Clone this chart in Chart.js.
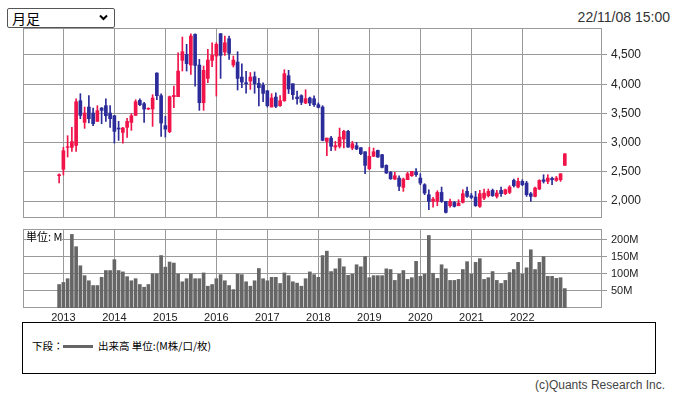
<!DOCTYPE html>
<html><head><meta charset="utf-8">
<script src="https://cdn.jsdelivr.net/npm/chart.js@4.4.0/dist/chart.umd.min.js"></script>
<style>
html,body{margin:0;padding:0;background:#fff;}
body{width:676px;height:397px;position:relative;overflow:hidden;font-family:"Liberation Sans",Arial,sans-serif;}
canvas{position:absolute;left:0;}
#priceCanvas{top:0;}
#volCanvas{top:222px;}
#sel{position:absolute;left:7px;top:8px;width:108px;height:20px;border:1px solid #555;border-radius:2px;box-sizing:border-box;background:#fff;}
#sel span{position:absolute;left:4px;top:0px;font-family:"Noto Sans CJK JP",sans-serif;font-size:14px;line-height:18px;color:#000;}
#sel svg{position:absolute;right:6px;top:5px;}
#stamp{position:absolute;right:6px;top:9px;font-size:14px;color:#333;}
#unit{position:absolute;left:26px;top:230px;font-family:"Noto Sans CJK JP",sans-serif;font-size:11px;line-height:13px;color:#000;background:#fff;}
#legend{position:absolute;left:22px;top:322px;width:634px;height:52px;border:1px solid #000;box-sizing:border-box;background:#fff;}
#legend .t{position:absolute;top:16px;font-family:"Noto Sans CJK JP",sans-serif;font-size:10.5px;line-height:14px;color:#000;white-space:nowrap;}
#legend .ln{position:absolute;left:40px;top:22px;width:30px;height:3px;background:#666;}
#copy{position:absolute;right:11px;top:378px;font-size:12px;color:#444;}
</style>
</head><body>
<div id="sel"><span>月足</span><svg width="9" height="7" viewBox="0 0 9 7"><polyline points="1,1.5 4.5,5 8,1.5" fill="none" stroke="#000" stroke-width="2"/></svg></div>
<div id="stamp">22/11/08 15:00</div>
<canvas id="priceCanvas" width="676" height="222"></canvas>
<canvas id="volCanvas" width="676" height="108"></canvas>
<div id="unit">単位: M</div>
<div id="legend"><span class="t" style="left:9px">下段：</span><div class="ln"></div><span class="t" style="left:75px">出来高 単位:(M株/口/枚)</span></div>
<div id="copy">(c)Quants Research Inc.</div>
<script>
const months = [
'2012-12',
'2013-01','2013-02','2013-03','2013-04','2013-05','2013-06','2013-07','2013-08','2013-09','2013-10','2013-11','2013-12',
'2014-01','2014-02','2014-03','2014-04','2014-05','2014-06','2014-07','2014-08','2014-09','2014-10','2014-11','2014-12',
'2015-01','2015-02','2015-03','2015-04','2015-05','2015-06','2015-07','2015-08','2015-09','2015-10','2015-11','2015-12',
'2016-01','2016-02','2016-03','2016-04','2016-05','2016-06','2016-07','2016-08','2016-09','2016-10','2016-11','2016-12',
'2017-01','2017-02','2017-03','2017-04','2017-05','2017-06','2017-07','2017-08','2017-09','2017-10','2017-11','2017-12',
'2018-01','2018-02','2018-03','2018-04','2018-05','2018-06','2018-07','2018-08','2018-09','2018-10','2018-11','2018-12',
'2019-01','2019-02','2019-03','2019-04','2019-05','2019-06','2019-07','2019-08','2019-09','2019-10','2019-11','2019-12',
'2020-01','2020-02','2020-03','2020-04','2020-05','2020-06','2020-07','2020-08','2020-09','2020-10','2020-11','2020-12',
'2021-01','2021-02','2021-03','2021-04','2021-05','2021-06','2021-07','2021-08','2021-09','2021-10','2021-11','2021-12',
'2022-01','2022-02','2022-03','2022-04','2022-05','2022-06','2022-07','2022-08','2022-09','2022-10','2022-11'
];
const open = [
2433,
2542,2918,2918,2952,3717,3346,3609,3506,3363,3592,3632,3506,
3460,3249,3175,3261,3346,3466,3723,3666,3575,3575,4191,3803,
3290,3186,3786,3786,4408,4510,4328,4853,4328,3683,4099,4408,
4482,4864,4550,4779,4328,4379,4122,4025,4054,4128,4014,3980,
3888,3609,3780,3632,3717,4145,4008,3780,3803,3677,3763,3751,
3649,3609,3021,3078,2924,2936,3061,3192,2907,2947,2913,2844,
2553,2764,2867,2793,2610,2490,2376,2393,2233,2365,2433,2496,
2393,2279,2108,1993,1993,2147,1993,1919,1976,1919,1976,2165,
2090,2068,1908,2050,2090,2182,2079,2182,2125,2147,2353,2239,
2336,2307,2125,2079,2205,2364,2336,2387,2353,2364,2610
];
const high = [
2467,
2918,3118,3261,3751,3837,3609,3803,3592,3632,3600,3751,3632,
3465,3363,3260,3415,3495,3734,3751,3689,3597,3820,4195,3837,
3450,3797,3968,4539,4807,4682,4864,4864,4425,4311,4596,4710,
4710,4870,4824,4824,4482,4556,4350,4220,4200,4210,4100,4025,
3890,3837,3850,3803,4248,4237,4008,3880,3820,3905,3780,3800,
3680,3632,3078,3107,3021,3249,3209,3209,3021,3004,2913,2844,
2918,2907,2870,2800,2620,2507,2490,2433,2393,2490,2507,2553,
2467,2296,2193,2062,2176,2239,1993,2033,1993,2022,2193,2239,
2130,2165,2182,2205,2205,2205,2182,2239,2205,2262,2376,2393,
2364,2336,2147,2239,2364,2450,2450,2410,2421,2467,2809
];
const low = [
2308,
2445,2753,2850,2850,3409,3244,3335,3289,3363,3323,3363,3261,
2992,3038,2992,3089,3209,3466,3632,3346,3563,3278,3734,3107,
3095,3169,3597,3786,4225,4225,4168,3968,3552,3552,4025,4300,
3797,4099,4493,4425,4294,3900,3940,3845,3911,3845,3630,3700,
3609,3609,3600,3620,3706,3840,3740,3660,3650,3666,3632,3620,
3592,3030,2776,2860,2867,2907,2907,2918,2878,2878,2793,2467,
2536,2764,2745,2565,2470,2370,2365,2176,2165,2365,2422,2422,
2279,2108,1851,1896,1919,1976,1794,1896,1896,1919,1965,2062,
2040,1908,1890,2022,2068,2079,2050,2079,2108,2125,2239,2222,
2262,2079,1993,2068,2193,2307,2296,2279,2336,2336,2610
];
const close = [
2450,
2861,2930,3015,3700,3466,3506,3409,3323,3546,3552,3460,3409,
3192,3232,3249,3363,3460,3700,3649,3575,3586,3763,3803,3335,
3230,3786,3808,4225,4556,4351,4824,4322,3683,4237,4413,4493,
4682,4493,4710,4528,4413,4099,4037,4008,4122,4008,3940,3843,
3632,3763,3620,3717,4180,3917,3820,3751,3689,3751,3677,3649,
3603,3038,3078,2936,2947,3095,3192,2924,2981,2890,2810,2610,
2764,2844,2753,2576,2479,2380,2433,2251,2376,2467,2507,2450,
2307,2136,1993,2033,2147,1993,1805,1993,1908,1965,2125,2079,
2062,1919,2125,2136,2165,2090,2136,2125,2193,2239,2262,2336,
2279,2108,2079,2222,2353,2336,2393,2364,2393,2467,2809
];
const volume = [
69,
75,86,216,180,124,95,80,66,66,90,110,110,
142,110,106,92,80,86,69,61,69,100,100,154,
120,135,132,100,77,86,100,86,86,103,64,69,
86,98,80,66,54,100,98,77,64,80,116,86,
80,90,90,72,103,95,77,73,64,86,106,98,
90,154,167,107,115,145,121,96,99,127,121,151,
89,95,95,95,115,113,81,99,110,84,89,137,
93,99,213,102,87,127,115,81,81,84,113,136,
99,134,145,84,89,107,81,72,81,104,113,134,
99,118,171,113,134,151,93,93,87,89,57
];
const yearTicks = ['2013','2014','2015','2016','2017','2018','2019','2020','2021','2022'];
const priceTicks = [2000,2500,3000,3500,4000,4500];
const volumeTicks = [50,100,150,200];

const UP = '#f0144a', DOWN = '#2b2b99', GRID = '#9a9a9a';
function monthIndex(s){ const p = s.split('-').map(Number); return (p[0]-2013)*12 + (p[1]-1); }
const xs = months.map(monthIndex);
const colors = open.map((o,i)=> close[i] >= o ? UP : DOWN);

const frame = {
  id:'frame',
  beforeDatasetsDraw(chart){
    const {ctx, chartArea:a} = chart;
    ctx.save();
    ctx.strokeStyle = GRID; ctx.lineWidth = 1;
    ctx.strokeRect(Math.floor(a.left)+0.5, Math.floor(a.top)+0.5, Math.round(a.right-a.left)-1, Math.round(a.bottom-a.top)-1);
    ctx.restore();
  }
};

function noPad(s){ s.paddingTop = 0; s.paddingBottom = 0; s.paddingLeft = 0; s.paddingRight = 0; }

function xScale(showLabels){
  return {
    type:'linear', min:-9.5, max:126.75, offset:false,
    afterBuildTicks: s => { s.ticks = yearTicks.map((_,i)=>({value:i*12})); },
    grid:{color:GRID, lineWidth:1, drawTicks:false, offset:false},
    border:{display:false},
    ticks:{display:showLabels, autoSkip:false, maxRotation:0, minRotation:0, padding:3, color:'#222',
      font:{family:'Liberation Sans', size:11}, callback:(v,i)=>yearTicks[i]},
    afterFit: s => { s.height = showLabels ? 22 : 0; noPad(s); }
  };
}

const common = {
  responsive:false, animation:false, devicePixelRatio:1,
  plugins:{legend:{display:false}, tooltip:{enabled:false}}
};

new Chart(document.getElementById('priceCanvas'), {
  type:'bar',
  data:{ datasets:[
    { label:'body', order:0, grouped:false, barThickness:3, borderWidth:0, backgroundColor:colors,
      data: xs.map((x,i)=>({x:x, y:[Math.min(open[i],close[i]), Math.max(open[i],close[i])]})) },
    { label:'wick', order:1, grouped:false, barThickness:1, borderWidth:0, backgroundColor:colors,
      data: xs.map((x,i)=>({x:x, y:[low[i], high[i]]})) }
  ]},
  options: Object.assign({}, common, {
    layout:{padding:{left:23, top:28, right:0, bottom:4}},
    scales:{
      x: xScale(false),
      y: { type:'linear', position:'right', min:1709, max:4962,
        afterBuildTicks: s => { s.ticks = priceTicks.map(v=>({value:v})); },
        grid:{color:GRID, lineWidth:1, tickLength:5, drawTicks:true},
        border:{display:false},
        ticks:{padding:4, color:'#222', font:{family:'Liberation Sans', size:12},
          callback: v => Number(v).toLocaleString('en-US')},
        afterFit: s => { s.width = 74; noPad(s); }
      }
    }
  }),
  plugins:[frame]
});

new Chart(document.getElementById('volCanvas'), {
  type:'bar',
  data:{ datasets:[
    { label:'出来高', grouped:false, barThickness:3, borderWidth:0, backgroundColor:'#666666',
      data: xs.map((x,i)=>({x:x, y:volume[i]})) }
  ]},
  options: Object.assign({}, common, {
    layout:{padding:{left:23, top:7, right:0, bottom:0}},
    scales:{
      x: xScale(true),
      y: { type:'linear', position:'right', min:0, max:232,
        afterBuildTicks: s => { s.ticks = volumeTicks.map(v=>({value:v})); },
        grid:{color:GRID, lineWidth:1, tickLength:5, drawTicks:true},
        border:{display:false},
        ticks:{padding:4, color:'#222', font:{family:'Liberation Sans', size:11},
          callback: v => v + 'M'},
        afterFit: s => { s.width = 74; noPad(s); }
      }
    }
  }),
  plugins:[frame]
});
</script>
</body></html>
